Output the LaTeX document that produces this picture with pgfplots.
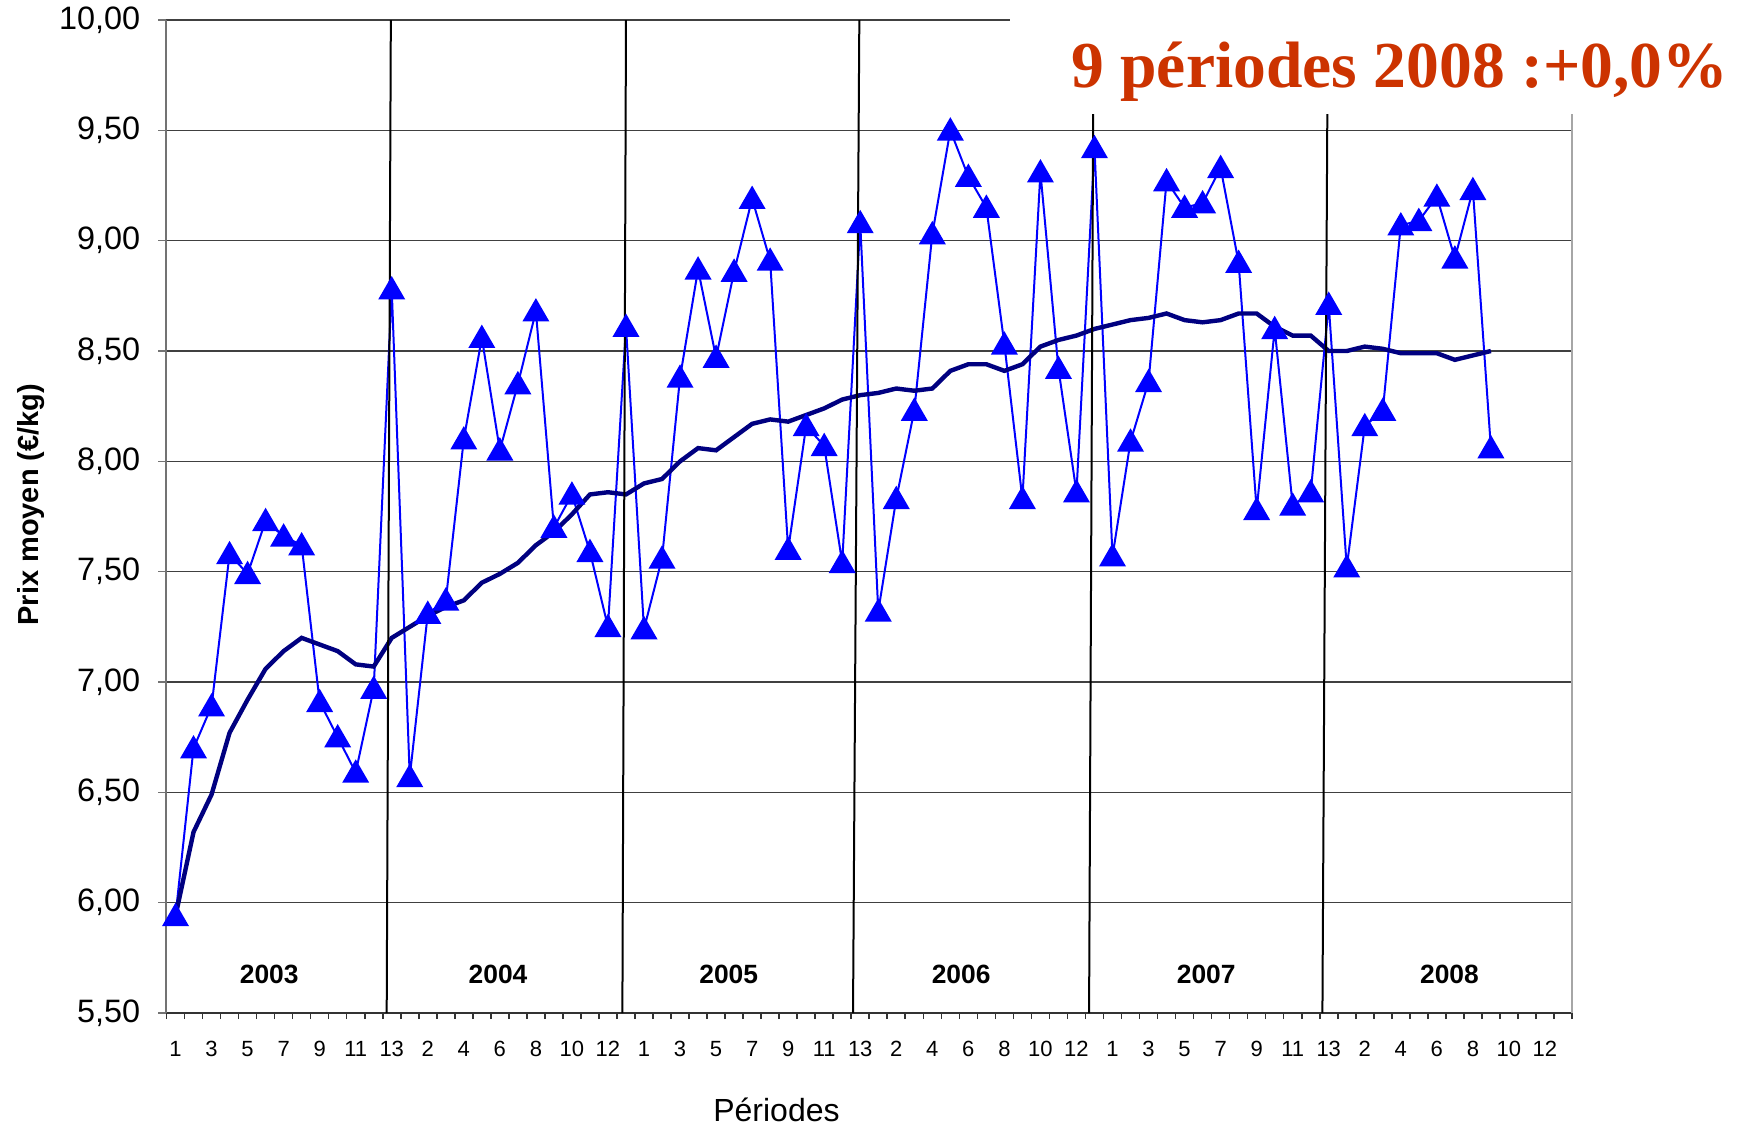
\documentclass[border=0pt]{standalone}
\usepackage{fontspec}
\setmainfont{Liberation Sans}
\newfontfamily\titlefont{Liberation Serif}
\usepackage{pgfplots}
\pgfplotsset{compat=1.18}
\definecolor{titlecol}{RGB}{204,51,0}
\definecolor{navyline}{RGB}{0,0,128}

\pgfplotstableread{
i v
0 5.94
1 6.70
2 6.89
3 7.58
4 7.49
5 7.73
6 7.66
7 7.62
8 6.91
9 6.75
10 6.59
11 6.97
12 8.78
13 6.57
14 7.31
15 7.37
16 8.10
17 8.56
18 8.05
19 8.35
20 8.68
21 7.70
22 7.85
23 7.59
24 7.25
25 8.61
26 7.24
27 7.56
28 8.38
29 8.87
30 8.47
31 8.86
32 9.19
33 8.91
34 7.60
35 8.16
36 8.07
37 7.54
38 9.08
39 7.32
40 7.83
41 8.23
42 9.03
43 9.50
44 9.29
45 9.15
46 8.53
47 7.83
48 9.31
49 8.42
50 7.86
51 9.42
52 7.57
53 8.09
54 8.36
55 9.27
56 9.15
57 9.17
58 9.33
59 8.90
60 7.78
61 8.60
62 7.80
63 7.86
64 8.71
65 7.52
66 8.16
67 8.23
68 9.07
69 9.09
70 9.20
71 8.92
72 9.23
73 8.06
}\prix

\pgfplotstableread{
i v
0 5.94
1 6.32
2 6.49
3 6.77
4 6.92
5 7.06
6 7.14
7 7.20
8 7.17
9 7.14
10 7.08
11 7.07
12 7.20
13 7.25
14 7.30
15 7.34
16 7.37
17 7.45
18 7.49
19 7.54
20 7.62
21 7.68
22 7.76
23 7.85
24 7.86
25 7.85
26 7.90
27 7.92
28 8.00
29 8.06
30 8.05
31 8.11
32 8.17
33 8.19
34 8.18
35 8.21
36 8.24
37 8.28
38 8.30
39 8.31
40 8.33
41 8.32
42 8.33
43 8.41
44 8.44
45 8.44
46 8.41
47 8.44
48 8.52
49 8.55
50 8.57
51 8.60
52 8.62
53 8.64
54 8.65
55 8.67
56 8.64
57 8.63
58 8.64
59 8.67
60 8.67
61 8.61
62 8.57
63 8.57
64 8.50
65 8.50
66 8.52
67 8.51
68 8.49
69 8.49
70 8.49
71 8.46
72 8.48
73 8.50
}\moyenne

\begin{document}
\begin{tikzpicture}
\begin{axis}[
  at={(0pt,0pt)}, anchor=south west,
  scale only axis, width=351.375pt, height=248.25pt,
  xmin=-0.5, xmax=77.5, ymin=5.5, ymax=10,
  axis x line*=bottom, axis y line*=left,
  x axis line style={black!80, line width=0.5pt},
  y axis line style={black!55, line width=0.5pt},
  ytick={5.5,6,6.5,7,7.5,8,8.5,9,9.5,10},
  ymajorgrids, grid style={black!75, line width=0.3pt},
  xtick={0,2,...,76},
  xticklabels={1,3,5,7,9,11,13,2,4,6,8,10,12,1,3,5,7,9,11,13,2,4,6,8,10,12,1,3,5,7,9,11,13,2,4,6,8,10,12},
  minor xtick={-0.5,0.5,...,77.5},
  tick align=outside,
  major tick length=2pt, minor tick length=1.5pt,
  major x tick style={draw=none},
  minor x tick style={black!80, line width=0.4pt},
  ytick style={black!55, line width=0.4pt},
  /pgf/number format/assume math mode=true,
  yticklabel style={font=\fontsize{8.1}{9}\selectfont, anchor=east, inner sep=0pt, xshift=-4.4pt,
    /pgf/number format/fixed, /pgf/number format/fixed zerofill,
    /pgf/number format/precision=2, /pgf/number format/use comma},
  xticklabel style={font=\fontsize{5.5}{6}\selectfont, anchor=center, inner sep=0pt, yshift=-7.0pt},
  xlabel={Périodes},
  xlabel style={font=\fontsize{8}{9}\selectfont, at={(axis description cs:0.434,-0.0977)}, anchor=center, inner sep=0pt},
  ylabel={Prix moyen (€/kg)},
  ylabel style={font=\bfseries\fontsize{7.25}{8}\selectfont, at={(axis description cs:-0.0964,0.512)}, anchor=center, inner sep=0pt},
]
\addplot[blue, line width=0.5pt, mark=triangle*, mark size=3.4pt, mark options={solid, fill=blue, draw=blue, yshift=-0.6pt}] table[x=i, y=v] {\prix};
\addplot[navyline, line width=1.1pt, no markers] table[x=i, y=v] {\moyenne};
\draw[black, line width=0.5pt] (axis cs:11.95,10) -- (axis cs:11.72,5.5);
\draw[black, line width=0.5pt] (axis cs:25.0,10) -- (axis cs:24.8,5.5);
\draw[black, line width=0.5pt] (axis cs:37.95,10) -- (axis cs:37.6,5.5);
\draw[black, line width=0.5pt] (axis cs:50.95,10) -- (axis cs:50.7,5.5);
\draw[black, line width=0.5pt] (axis cs:63.95,10) -- (axis cs:63.65,5.5);
\node[font=\bfseries\fontsize{6.6}{7}\selectfont] at (axis cs:5.2,5.673) {2003};
\node[font=\bfseries\fontsize{6.6}{7}\selectfont] at (axis cs:17.9,5.673) {2004};
\node[font=\bfseries\fontsize{6.6}{7}\selectfont] at (axis cs:30.7,5.673) {2005};
\node[font=\bfseries\fontsize{6.6}{7}\selectfont] at (axis cs:43.6,5.673) {2006};
\node[font=\bfseries\fontsize{6.6}{7}\selectfont] at (axis cs:57.2,5.673) {2007};
\node[font=\bfseries\fontsize{6.6}{7}\selectfont] at (axis cs:70.7,5.673) {2008};
\end{axis}
\fill[white] (210.9pt,224.75pt) rectangle (395pt,255pt);
\draw[black!35, line width=0.5pt] (351.375pt,0pt) -- (351.375pt,224.75pt);
\node[anchor=base east, inner sep=0pt, text=titlecol, font=\titlefont\bfseries\fontsize{16.4}{18}\selectfont] at (390.6pt,231.5pt) {9 périodes 2008 :+0,0\%};
\pgfresetboundingbox
\path[use as bounding box] (-41.625pt,-28.75pt) rectangle (393.375pt,253.25pt);
\end{tikzpicture}
\end{document}
